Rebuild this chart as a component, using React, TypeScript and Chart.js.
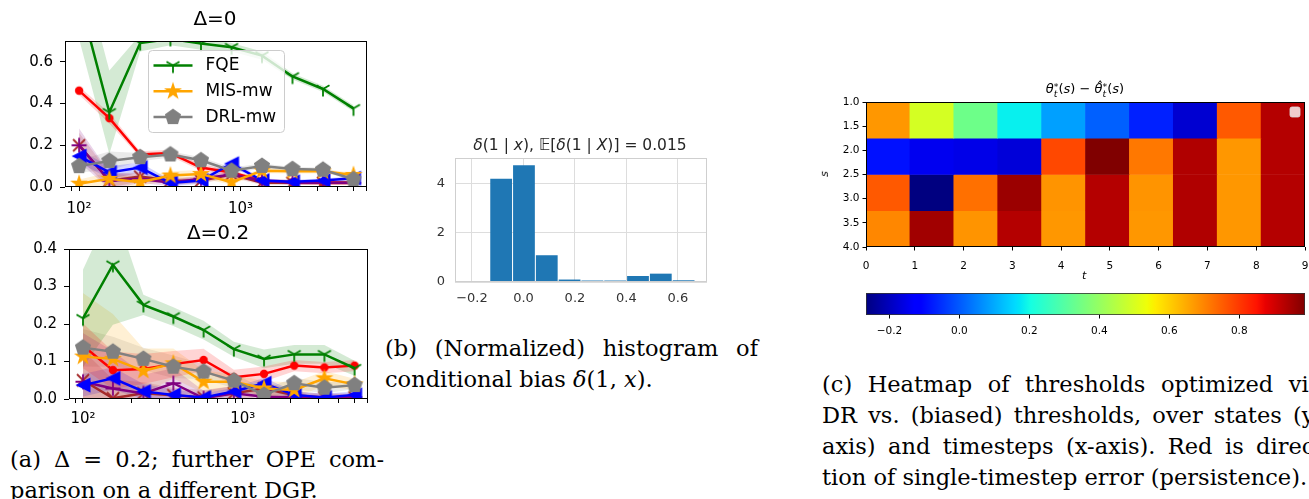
import React, { useEffect, useRef } from 'react';
import { Chart, registerables } from 'chart.js';

Chart.register(...registerables);
Chart.defaults.font.family = "'DejaVu Sans', sans-serif";
Chart.defaults.color = '#000';

// ================= panel (a): error vs. sample size (log x) =================
const sampleSizes = [100, 154, 239, 368, 569, 880, 1359, 2100, 3245, 5012];
const logXMin = 81.8;
const logXMax = 6081;
const logTickValues = [90, 100, 200, 300, 400, 500, 600, 700, 800, 900, 1000, 2000, 3000, 4000, 5000, 6000];
const logLabelValues = [100, 1000];
const logLabelTexts = ['10²', '10³'];

// Δ = 0
const d0Title = 'Δ=0';
const d0YMax = 0.7;
const d0YTicks = [0, 0.2, 0.4, 0.6];
const d0Fqe = [0.91, 0.358, 0.69, 0.71, 0.688, 0.67, 0.63, 0.53, 0.47, 0.377];
const d0FqeErr = [0.2, 0.2, 0.04, 0.03, 0.03, 0.02, 0.02, 0.015, 0.015, 0.015];
const d0Mis = [0.016, 0.039, 0.023, 0.055, 0.062, 0.023, 0.078, 0.075, 0.075, 0.058];
const d0MisErr = [0.02, 0.03, 0.02, 0.02, 0.02, 0.012, 0.012, 0.01, 0.01, 0.01];
const d0Drl = [0.1, 0.125, 0.143, 0.156, 0.128, 0.078, 0.101, 0.086, 0.083, 0.037];
const d0DrlErr = [0.03, 0.045, 0.02, 0.015, 0.015, 0.015, 0.012, 0.01, 0.01, 0.01];
const d0Red = [0.462, 0.33, 0.156, 0.163, 0.093, 0.07, 0.03, 0.023, 0.02, 0.02];
const d0RedErr = [0.02, 0.025, 0.015, 0.015, 0.015, 0.012, 0.01, 0.01, 0.01, 0.01];
const d0Blue = [0.148, 0.07, 0.093, 0.019, 0.031, 0.112, 0.031, 0.025, 0.031, 0.042];
const d0BlueErr = [0.03, 0.03, 0.025, 0.015, 0.015, 0.015, 0.01, 0.01, 0.01, 0.01];
const d0Purple = [0.2, 0.03, 0.039, 0.02, 0.04, 0.06, 0.03, 0.02, 0.02, 0.02];
const d0PurpleErr = [0.08, 0.04, 0.02, 0.015, 0.015, 0.015, 0.01, 0.01, 0.01, 0.01];
const d0Brown = [0.2, 0.03, 0.05, 0.03, 0.03, 0.06, 0.02, 0.02, 0.02, 0.02];
const d0BrownErr = [0.06, 0.035, 0.02, 0.015, 0.015, 0.015, 0.01, 0.01, 0.01, 0.01];

// Δ = 0.2
const d2Title = 'Δ=0.2';
const d2YMax = 0.4;
const d2YTicks = [0, 0.1, 0.2, 0.3, 0.4];
const d2Fqe = [0.215, 0.358, 0.251, 0.22, 0.184, 0.133, 0.107, 0.119, 0.119, 0.082];
const d2FqeErr = [0.13, 0.16, 0.027, 0.025, 0.025, 0.02, 0.025, 0.025, 0.025, 0.02];
const d2Mis = [0.113, 0.107, 0.075, 0.095, 0.046, 0.046, 0.028, 0.024, 0.055, 0.039];
const d2MisErr = [0.17, 0.12, 0.06, 0.04, 0.03, 0.02, 0.02, 0.02, 0.02, 0.015];
const d2Drl = [0.137, 0.126, 0.107, 0.086, 0.073, 0.049, 0.011, 0.042, 0.03, 0.037];
const d2DrlErr = [0.05, 0.04, 0.03, 0.03, 0.02, 0.02, 0.015, 0.015, 0.015, 0.01];
const d2Red = [0.142, 0.077, 0.08, 0.093, 0.104, 0.058, 0.067, 0.089, 0.084, 0.089];
const d2RedErr = [0.06, 0.05, 0.04, 0.035, 0.03, 0.02, 0.02, 0.015, 0.015, 0.015];
const d2Blue = [0.037, 0.055, 0.02, 0.011, 0.004, 0.02, 0.042, 0.011, 0.004, 0.011];
const d2BlueErr = [0.03, 0.03, 0.02, 0.015, 0.01, 0.01, 0.015, 0.01, 0.01, 0.01];
const d2Purple = [0.046, 0.028, 0.015, 0.042, 0.002, 0.015, 0.006, 0.005, 0.005, 0.005];
const d2PurpleErr = [0.13, 0.1, 0.05, 0.04, 0.02, 0.02, 0.01, 0.01, 0.01, 0.01];
const d2Brown = [0.05, 0.002, 0.015, 0.01, 0.004, 0.015, 0.028, 0.01, 0.004, 0.004];
const d2BrownErr = [0.08, 0.05, 0.03, 0.02, 0.02, 0.02, 0.02, 0.01, 0.01, 0.01];

const legendLabels = ['FQE', 'MIS-mw', 'DRL-mw'];

// ================= panel (b): histogram =================
const histTitleParts = ['δ', '(1 | ', 'x', '), 𝔼[', 'δ', '(1 | ', 'X', ')] = 0.015'];
const histBinCenters = [-0.0867, 0.0019, 0.0905, 0.1791, 0.2677, 0.3563, 0.4449, 0.5335, 0.6221];
const histDensity = [4.2, 4.75, 1.09, 0.1, 0.06, 0.06, 0.245, 0.34, 0.07];
const histXMin = -0.266;
const histXMax = 0.713;
const histXTicks = [-0.2, 0, 0.2, 0.4, 0.6];
const histYMax = 5.05;
const histYTicks = [0, 2, 4];

// ================= panel (c): heatmap =================
const heatTimeExtent = [0, 9];
const heatStateExtent = [1, 4];
const heatValues = [
  [0.674, 0.495, 0.339, 0.185, 0.087, 0.008, -0.071, -0.179, 0.757, 0.931],
  [-0.09, -0.145, -0.154, -0.17, 0.78, 0.988, 0.716, 0.935, 0.674, 0.931],
  [0.757, -0.267, 0.726, 0.958, 0.678, 0.931, 0.678, 0.935, 0.674, 0.931],
  [0.696, 0.952, 0.678, 0.931, 0.674, 0.931, 0.674, 0.935, 0.674, 0.931],
];
const heatXTicks = [0, 1, 2, 3, 4, 5, 6, 7, 8, 9];
const heatYTicks = [1, 1.5, 2, 2.5, 3, 3.5, 4];
const cbarTicks = [-0.2, 0, 0.2, 0.4, 0.6, 0.8];

// ---------- colormap (matplotlib jet) ----------
const jetR = [[0, 0], [0.35, 0], [0.66, 1], [0.89, 1], [1, 0.5]];
const jetG = [[0, 0], [0.125, 0], [0.375, 1], [0.64, 1], [0.91, 0], [1, 0]];
const jetB = [[0, 0.5], [0.11, 1], [0.34, 1], [0.65, 0], [1, 0]];
const jetStops = [0, 0.11, 0.125, 0.34, 0.35, 0.375, 0.64, 0.65, 0.66, 0.89, 0.91, 1];
function chan(pts: number[][], t: number) {
  for (let i = 1; i < pts.length; i++) {
    if (t <= pts[i][0]) {
      const [t0, v0] = pts[i - 1];
      const [t1, v1] = pts[i];
      return v0 + ((v1 - v0) * (t - t0)) / (t1 - t0);
    }
  }
  return pts[pts.length - 1][1];
}
function jet(t: number) {
  const u = Math.max(0, Math.min(1, t));
  const r = Math.round(chan(jetR, u) * 255);
  const g = Math.round(chan(jetG, u) * 255);
  const b = Math.round(chan(jetB, u) * 255);
  return `rgb(${r},${g},${b})`;
}

function rgba(hex: string, a: number) {
  const n = parseInt(hex.slice(1), 16);
  return `rgba(${(n >> 16) & 255},${(n >> 8) & 255},${n & 255},${a})`;
}

function fmt(v: number, d: number) {
  const s = Math.abs(v).toFixed(d);
  return v < -1e-9 ? '−' + s : s;
}

function makeMarker(kind: string, color: string): HTMLCanvasElement {
  const size = 24;
  const c = document.createElement('canvas');
  c.width = size;
  c.height = size;
  const g = c.getContext('2d')!;
  g.translate(size / 2, size / 2);
  g.fillStyle = color;
  g.strokeStyle = color;
  g.lineWidth = 1.8;
  g.beginPath();
  if (kind === 'circle') {
    g.arc(0, 0, 4.2, 0, Math.PI * 2);
    g.fill();
  } else if (kind === 'pentagon') {
    const r = 8.5;
    for (let k = 0; k < 5; k++) {
      const a = -Math.PI / 2 + (k * 2 * Math.PI) / 5;
      g.lineTo(r * Math.cos(a), r * Math.sin(a));
    }
    g.closePath();
    g.fill();
  } else if (kind === 'star') {
    const R = 9.5;
    const r = R * 0.381966;
    for (let k = 0; k < 10; k++) {
      const a = -Math.PI / 2 + (k * Math.PI) / 5;
      const rr = k % 2 ? r : R;
      g.lineTo(rr * Math.cos(a), rr * Math.sin(a));
    }
    g.closePath();
    g.fill();
  } else if (kind === 'triLeft') {
    const h = 7.5;
    g.moveTo(-h, 0);
    g.lineTo(h, -h);
    g.lineTo(h, h);
    g.closePath();
    g.fill();
  } else if (kind === 'triDown') {
    const r = 7.5;
    g.moveTo(0, 0); g.lineTo(0, r);
    g.moveTo(0, 0); g.lineTo(-0.866 * r, -0.5 * r);
    g.moveTo(0, 0); g.lineTo(0.866 * r, -0.5 * r);
    g.stroke();
  } else if (kind === 'plus') {
    const r = 7.5;
    g.moveTo(-r, 0); g.lineTo(r, 0);
    g.moveTo(0, -r); g.lineTo(0, r);
    g.stroke();
  } else if (kind === 'cross') {
    const r = 6;
    g.moveTo(-r, -r); g.lineTo(r, r);
    g.moveTo(-r, r); g.lineTo(r, -r);
    g.stroke();
  }
  return c;
}

const seriesStyle: Record<string, { color: string; marker: string; order: number }> = {
  'DRL-mw': { color: '#808080', marker: 'pentagon', order: 0 },
  'MIS-mw': { color: '#ffa500', marker: 'star', order: 1 },
  FQE: { color: '#008000', marker: 'triDown', order: 2 },
  'blue-series': { color: '#0000ff', marker: 'triLeft', order: 3 },
  'purple-series': { color: '#800080', marker: 'plus', order: 4 },
  'brown-series': { color: '#a52a2a', marker: 'cross', order: 5 },
  'red-series': { color: '#ff0000', marker: 'circle', order: 6 },
};

type Series = { label: string; values: number[]; err: number[] };

function lineDatasets(series: Series[], markers: Record<string, HTMLCanvasElement>) {
  const ds: any[] = [];
  series.forEach((s) => {
    const st = seriesStyle[s.label];
    ds.push({
      label: s.label + ' upper',
      data: sampleSizes.map((x, i) => ({ x, y: s.values[i] + s.err[i] })),
      borderWidth: 0, borderColor: 'rgba(0,0,0,0)', pointRadius: 0, fill: false, order: 50,
    });
    ds.push({
      label: s.label + ' lower',
      data: sampleSizes.map((x, i) => ({ x, y: s.values[i] - s.err[i] })),
      borderWidth: 0, borderColor: 'rgba(0,0,0,0)', pointRadius: 0, fill: '-1',
      backgroundColor: rgba(st.color, 0.17), order: 50,
    });
    ds.push({
      label: s.label,
      data: sampleSizes.map((x, i) => ({ x, y: s.values[i] })),
      borderColor: st.color, backgroundColor: st.color, borderWidth: 2.5,
      pointStyle: markers[s.label], pointRadius: 6, pointHoverRadius: 6,
      fill: false, tension: 0, order: st.order,
    });
  });
  return ds;
}

const framePlugin = (color: string, width: number) => ({
  id: 'frame',
  afterDatasetsDraw(chart: any) {
    const { ctx, chartArea: a } = chart;
    ctx.save();
    ctx.strokeStyle = color;
    ctx.lineWidth = width;
    const l = Math.round(a.left) + 0.5, t = Math.round(a.top) + 0.5;
    const r = Math.round(a.right) - 0.5, b = Math.round(a.bottom) - 0.5;
    ctx.strokeRect(l, t, r - l, b - t);
    ctx.restore();
  },
});

function boxLegendPlugin(labels: string[], markers: Record<string, HTMLCanvasElement>) {
  return {
    id: 'boxLegend',
    afterDatasetsDraw(chart: any) {
      const { ctx, chartArea: a } = chart;
      const x0 = a.left + 83.5, y0 = a.top + 9.5, w = 136, h = 82;
      ctx.save();
      ctx.beginPath();
      ctx.roundRect(x0, y0, w, h, 4);
      ctx.fillStyle = 'rgba(255,255,255,0.8)';
      ctx.fill();
      ctx.strokeStyle = '#cccccc';
      ctx.lineWidth = 1;
      ctx.stroke();
      labels.forEach((lab, i) => {
        const st = seriesStyle[lab];
        const y = y0 + 15 + i * 25.8;
        ctx.beginPath();
        ctx.moveTo(x0 + 5, y);
        ctx.lineTo(x0 + 44, y);
        ctx.strokeStyle = st.color;
        ctx.lineWidth = 2.5;
        ctx.stroke();
        const m = markers[lab];
        ctx.drawImage(m, x0 + 24.5 - m.width / 2, y - m.height / 2);
        ctx.fillStyle = '#000';
        ctx.font = "17px 'DejaVu Sans'";
        ctx.textBaseline = 'middle';
        ctx.textAlign = 'left';
        ctx.fillText(lab, x0 + 57, y);
      });
      ctx.restore();
    },
  };
}

function lineChartConfig(series: Series[], markers: Record<string, HTMLCanvasElement>, yMax: number, yTicks: number[], lay: { top: number; right: number; yWidth: number; xHeight: number; xPad: number }, extraPlugins: any[]) {
  return {
    type: 'line',
    data: { datasets: lineDatasets(series, markers) },
    options: {
      animation: false,
      responsive: false,
      events: [],
      layout: { padding: { top: lay.top, right: lay.right, left: 0, bottom: 0 } },
      plugins: { legend: { display: false }, tooltip: { enabled: false }, title: { display: false } },
      scales: {
        x: {
          type: 'logarithmic', min: logXMin, max: logXMax,
          afterBuildTicks: (s: any) => { s.ticks = logTickValues.map((v) => ({ value: v })); },
          afterFit: (s: any) => { s.height = lay.xHeight; },
          ticks: {
            autoSkip: false, maxRotation: 0, minRotation: 0, padding: lay.xPad, color: '#000', font: { size: 15 },
            callback: (v: number) => { const k = logLabelValues.indexOf(v); return k >= 0 ? logLabelTexts[k] : ''; },
          },
          grid: { drawOnChartArea: false, drawTicks: true, tickLength: 4, color: '#000' },
          border: { display: false },
        },
        y: {
          type: 'linear', min: 0, max: yMax,
          afterBuildTicks: (s: any) => { s.ticks = yTicks.map((v) => ({ value: v })); },
          afterFit: (s: any) => { s.width = lay.yWidth; },
          ticks: { padding: 7, color: '#000', font: { size: 15 }, callback: (v: number) => v.toFixed(1) },
          grid: { drawOnChartArea: false, drawTicks: true, tickLength: 5, color: '#000' },
          border: { display: false },
        },
      },
    },
    plugins: [framePlugin('#000', 1), ...extraPlugins],
  } as any;
}

const SubSup = ({ sub, sup }: { sub: string; sup: string }) => (
  <span style={{ display: 'inline-block', verticalAlign: '-0.45em', lineHeight: '0.8em', fontSize: '0.72em', textAlign: 'left' }}>
    <span style={{ display: 'block' }}>{sup}</span>
    <span style={{ display: 'block', fontStyle: 'italic' }}>{sub}</span>
  </span>
);

const capFont = "22.5px 'DejaVu Serif', serif";
const capLine = (text: React.ReactNode, left: number, top: number, width: number, justify: boolean) => (
  <div
    style={{
      position: 'absolute', left, top, width, font: capFont, lineHeight: '31px', whiteSpace: 'nowrap',
      textAlign: justify ? 'justify' : 'left', textAlignLast: justify ? 'justify' : 'left', color: '#000',
    } as any}
  >
    {text}
  </div>
);

export default function App() {
  const a0Ref = useRef<HTMLCanvasElement>(null);
  const a2Ref = useRef<HTMLCanvasElement>(null);
  const histRef = useRef<HTMLCanvasElement>(null);
  const heatRef = useRef<HTMLCanvasElement>(null);
  const cbarRef = useRef<HTMLCanvasElement>(null);

  useEffect(() => {
    document.body.style.margin = '0';
    const markers: Record<string, HTMLCanvasElement> = {};
    Object.keys(seriesStyle).forEach((k) => { markers[k] = makeMarker(seriesStyle[k].marker, seriesStyle[k].color); });

    const charts: Chart[] = [];

    const s0: Series[] = [
      { label: 'red-series', values: d0Red, err: d0RedErr },
      { label: 'brown-series', values: d0Brown, err: d0BrownErr },
      { label: 'purple-series', values: d0Purple, err: d0PurpleErr },
      { label: 'blue-series', values: d0Blue, err: d0BlueErr },
      { label: 'FQE', values: d0Fqe, err: d0FqeErr },
      { label: 'MIS-mw', values: d0Mis, err: d0MisErr },
      { label: 'DRL-mw', values: d0Drl, err: d0DrlErr },
    ];
    const s2: Series[] = [
      { label: 'red-series', values: d2Red, err: d2RedErr },
      { label: 'brown-series', values: d2Brown, err: d2BrownErr },
      { label: 'purple-series', values: d2Purple, err: d2PurpleErr },
      { label: 'blue-series', values: d2Blue, err: d2BlueErr },
      { label: 'FQE', values: d2Fqe, err: d2FqeErr },
      { label: 'MIS-mw', values: d2Mis, err: d2MisErr },
      { label: 'DRL-mw', values: d2Drl, err: d2DrlErr },
    ];

    charts.push(new Chart(a0Ref.current!, lineChartConfig(s0, markers, d0YMax, d0YTicks, { top: 12, right: 13, yWidth: 65, xHeight: 28, xPad: 9 }, [boxLegendPlugin(legendLabels, markers)])));
    charts.push(new Chart(a2Ref.current!, lineChartConfig(s2, markers, d2YMax, d2YTicks, { top: 17, right: 12, yWidth: 69, xHeight: 26, xPad: 7 }, [])));

    // histogram
    charts.push(new Chart(histRef.current!, {
      type: 'bar',
      data: {
        datasets: [{
          label: 'density',
          data: histBinCenters.map((x, i) => ({ x, y: histDensity[i] })),
          backgroundColor: '#1f77b4', borderWidth: 0, barPercentage: 0.955, categoryPercentage: 1, grouped: false,
        }],
      },
      options: {
        animation: false, responsive: false, events: [],
        layout: { padding: { top: 18, right: 13, left: 0, bottom: 0 } },
        plugins: { legend: { display: false }, tooltip: { enabled: false } },
        scales: {
          x: {
            type: 'linear', min: histXMin, max: histXMax, offset: false,
            afterBuildTicks: (s: any) => { s.ticks = histXTicks.map((v) => ({ value: v })); },
            afterFit: (s: any) => { s.height = 23; },
            ticks: { padding: 9, color: '#333', font: { size: 13 }, callback: (v: number) => fmt(v, 1) },
            grid: { drawTicks: false, color: '#dddddd', offset: false },
            border: { display: false },
          },
          y: {
            type: 'linear', min: 0, max: histYMax,
            afterBuildTicks: (s: any) => { s.ticks = histYTicks.map((v) => ({ value: v })); },
            afterFit: (s: any) => { s.width = 55; },
            ticks: { padding: 10, color: '#333', font: { size: 13 }, callback: (v: number) => String(v) },
            grid: { drawTicks: false, color: '#dddddd' },
            border: { display: false },
          },
        },
      },
      plugins: [framePlugin('#cfcfcf', 1)],
    } as any));

    // heatmap
    const vmin = Math.min(...heatValues.flat());
    const vmax = Math.max(...heatValues.flat());
    const nCols = heatValues[0].length;
    const nRows = heatValues.length;
    const cellW = (heatTimeExtent[1] - heatTimeExtent[0]) / nCols;
    const cellH = (heatStateExtent[1] - heatStateExtent[0]) / nRows;
    const colorOf = (v: number) => jet((v - vmin) / (vmax - vmin));
    const emptyLegend = {
      id: 'emptyLegend',
      afterDatasetsDraw(chart: any) {
        const { ctx, chartArea: a } = chart;
        ctx.save();
        ctx.beginPath();
        ctx.roundRect(a.right - 15, a.top + 5, 10, 10, 2);
        ctx.fillStyle = 'rgba(255,255,255,0.8)';
        ctx.fill();
        ctx.strokeStyle = 'rgba(220,220,220,0.8)';
        ctx.lineWidth = 1;
        ctx.stroke();
        ctx.restore();
      },
    };
    charts.push(new Chart(heatRef.current!, {
      type: 'bar',
      data: {
        datasets: heatValues.map((row, r) => ({
          label: 'row ' + r,
          data: row.map((v, c) => ({
            x: heatTimeExtent[0] + (c + 0.5) * cellW,
            y: [heatStateExtent[0] + r * cellH, heatStateExtent[0] + (r + 1) * cellH],
          })),
          backgroundColor: row.map(colorOf),
          borderWidth: 0, barPercentage: 1, categoryPercentage: 1, grouped: false,
        })),
      },
      options: {
        animation: false, responsive: false, events: [],
        layout: { padding: { top: 17, right: 15, left: 0, bottom: 0 } },
        plugins: { legend: { display: false }, tooltip: { enabled: false } },
        scales: {
          x: {
            type: 'linear', min: heatTimeExtent[0], max: heatTimeExtent[1], offset: false,
            afterBuildTicks: (s: any) => { s.ticks = heatXTicks.map((v) => ({ value: v })); },
            afterFit: (s: any) => { s.height = 33; },
            ticks: { padding: 9, color: '#000', font: { size: 10.5 }, callback: (v: number) => String(v) },
            grid: { drawOnChartArea: false, tickLength: 3.5, color: '#000', offset: false },
            border: { display: false },
          },
          y: {
            type: 'linear', min: heatStateExtent[0], max: heatStateExtent[1], reverse: true,
            afterBuildTicks: (s: any) => { s.ticks = heatYTicks.map((v) => ({ value: v })); },
            afterFit: (s: any) => { s.width = 46; },
            ticks: { padding: 3, color: '#000', font: { size: 10.5 }, callback: (v: number) => v.toFixed(1) },
            grid: { drawOnChartArea: false, tickLength: 3.5, color: '#000' },
            border: { display: false },
          },
        },
      },
      plugins: [framePlugin('#000', 1), emptyLegend],
    } as any));

    // colorbar
    const gradientPlugin = {
      id: 'cbarGradient',
      beforeDatasetsDraw(chart: any) {
        const { ctx, chartArea: a } = chart;
        const g = ctx.createLinearGradient(a.left, 0, a.right, 0);
        jetStops.forEach((t) => g.addColorStop(t, jet(t)));
        ctx.save();
        ctx.fillStyle = g;
        ctx.fillRect(a.left, a.top, a.right - a.left, a.bottom - a.top);
        ctx.restore();
      },
    };
    charts.push(new Chart(cbarRef.current!, {
      type: 'line',
      data: { datasets: [] },
      options: {
        animation: false, responsive: false, events: [],
        layout: { padding: { top: 10, right: 15, left: 46, bottom: 0 } },
        plugins: { legend: { display: false }, tooltip: { enabled: false } },
        scales: {
          x: {
            type: 'linear', min: vmin, max: vmax,
            afterBuildTicks: (s: any) => { s.ticks = cbarTicks.map((v) => ({ value: v })); },
            afterFit: (s: any) => { s.height = 23; },
            ticks: { padding: 6, color: '#000', font: { size: 10.5 }, callback: (v: number) => fmt(v, 1) },
            grid: { drawOnChartArea: false, tickLength: 3.5, color: '#000' },
            border: { display: false },
          },
          y: { type: 'linear', min: 0, max: 1, display: false },
        },
      },
      plugins: [gradientPlugin, framePlugin('#333', 0.8)],
    } as any));

    return () => charts.forEach((c) => c.destroy());
  }, []);

  const abs = (left: number, top: number): React.CSSProperties => ({ position: 'absolute', left, top });

  return (
    <div style={{ position: 'absolute', left: 0, top: 0, width: 1309, height: 499, overflow: 'hidden', background: '#fff' }}>
      <canvas ref={a0Ref} width={380} height={190} style={abs(0, 25)} />
      <canvas ref={a2Ref} width={380} height={193} style={abs(0, 232)} />
      <canvas ref={histRef} width={320} height={165} style={abs(400, 140)} />
      <canvas ref={heatRef} width={500} height={195} style={abs(820, 85)} />
      <canvas ref={cbarRef} width={500} height={55} style={abs(820, 283)} />

      <div style={{ ...abs(115, 6), width: 200, textAlign: 'center', font: "20px 'DejaVu Sans'", lineHeight: '24px' }}>{d0Title}</div>
      <div style={{ ...abs(118, 220), width: 200, textAlign: 'center', font: "20px 'DejaVu Sans'", lineHeight: '24px' }}>{d2Title}</div>

      <div style={{ ...abs(430, 135), width: 300, textAlign: 'center', font: "15.5px 'DejaVu Sans'", lineHeight: '20px', color: '#262626', whiteSpace: 'nowrap' }}>
        <i>{histTitleParts[0]}</i>{histTitleParts[1]}<i>{histTitleParts[2]}</i>{histTitleParts[3]}<i>{histTitleParts[4]}</i>{histTitleParts[5]}<i>{histTitleParts[6]}</i>{histTitleParts[7]}
      </div>

      <div style={{ ...abs(985, 80), width: 200, textAlign: 'center', font: "13px 'DejaVu Sans'", lineHeight: '18px', whiteSpace: 'nowrap' }}>
        <i>θ</i><SubSup sup="*" sub="t" />(<i>s</i>) − <i>θ̂</i><SubSup sup="*" sub="t" />(<i>s</i>)
      </div>
      <div style={{ ...abs(822, 167), font: "italic 11px 'DejaVu Sans'", transform: 'rotate(-90deg)', lineHeight: '14px' }}>s</div>
      <div style={{ ...abs(1082, 269), font: "italic 11px 'DejaVu Sans'", lineHeight: '14px' }}>t</div>

      {capLine(<>(a) Δ = 0.2; further OPE com-</>, 10, 444, 374, true)}
      {capLine(<>parison on a different DGP.</>, 10, 475, 374, false)}

      {capLine(<>(b) (Normalized) histogram of</>, 385, 333, 373, true)}
      {capLine(<>conditional bias <i>δ</i>(1, <i>x</i>).</>, 385, 364, 373, false)}

      {capLine(<>(c) Heatmap of thresholds optimized via</>, 822, 369, 500, true)}
      {capLine(<>DR vs. (biased) thresholds, over states (y-</>, 822, 400, 500, true)}
      {capLine(<>axis) and timesteps (x-axis). Red is direc-</>, 822, 431, 500, true)}
      {capLine(<>tion of single-timestep error (persistence).</>, 822, 462, 500, false)}
    </div>
  );
}
